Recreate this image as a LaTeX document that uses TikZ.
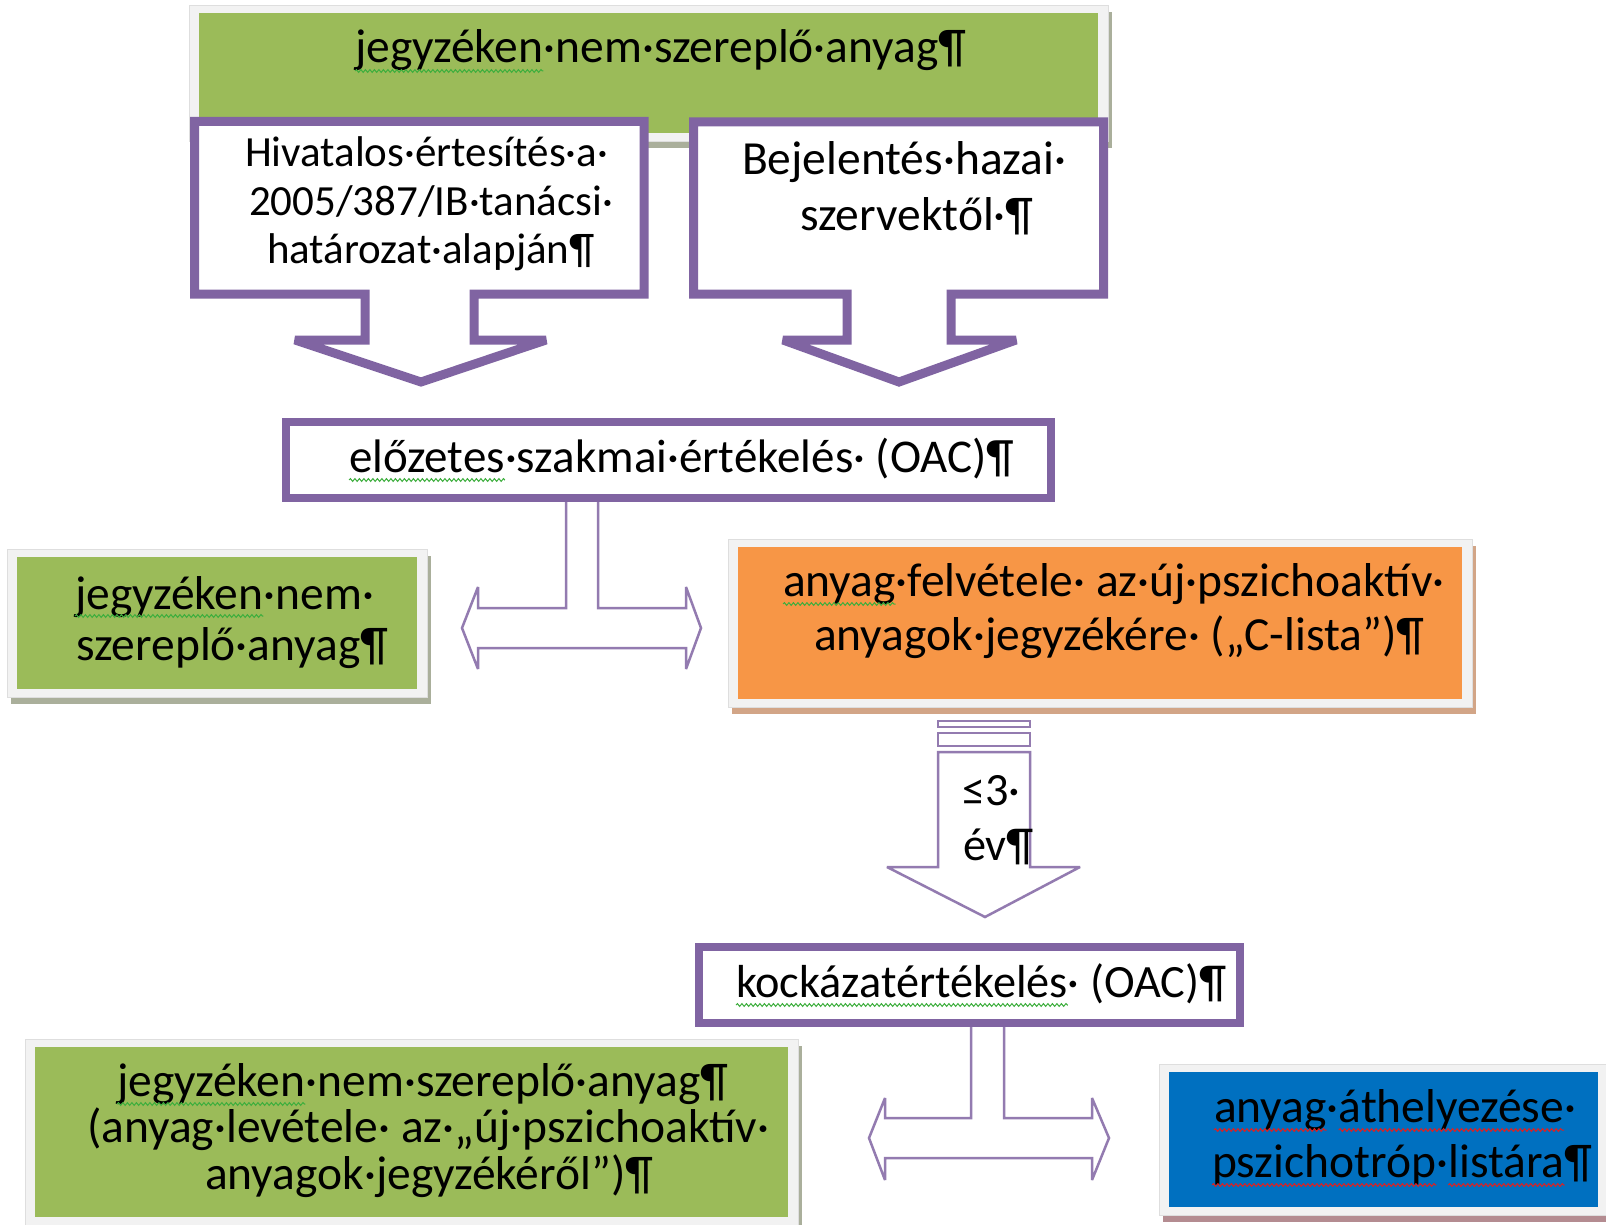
\documentclass[tikz,border=0pt]{standalone}
\usepackage{fontspec}
\setmainfont{Carlito}
\usetikzlibrary{decorations.pathmorphing}
\definecolor{ofpurple}{HTML}{8064A2}
\definecolor{ofgreen}{HTML}{9BBB59}
\definecolor{oforange}{HTML}{F79646}
\definecolor{ofblue}{HTML}{0070C0}
\definecolor{framegray}{HTML}{F2F2F2}
\definecolor{framerim}{HTML}{DEDEDE}
\definecolor{shgreen}{HTML}{AAAF9B}
\definecolor{shorange}{HTML}{D2A587}
\definecolor{shblue}{HTML}{B48C91}
\definecolor{wgreen}{HTML}{3DAE3D}
\definecolor{wred}{HTML}{E02020}
\newcommand\fA{\fontsize{47.5}{47.5}\selectfont}
\newcommand\fB{\fontsize{43}{43}\selectfont}
\newcommand\fC{\fontsize{46.3}{46.3}\selectfont}
\newcommand\fD{\fontsize{47}{47}\selectfont}
\newlength\tmplen
% measure text width into a macro: #1 macro, #2 font, #3 text
\newcommand\measure[3]{\settowidth{\tmplen}{#2#3}\edef#1{\the\tmplen}}
% #1 name, #2 x1, #3 y1, #4 x2, #5 y2, #6 fill, #7 shadow
\newcommand\framedbox[7]{%
  \fill[#7] (#2-6,#3-1) rectangle (#4+14,#5+15);
  \filldraw[fill=framegray,draw=framerim,line width=0.8pt] (#2-10,#3-8) rectangle (#4+10,#5+8);
  \node[fill=#6,inner sep=0pt,outer sep=0pt,anchor=north west,
        minimum width={#4-#2},minimum height={#5-#3}] (#1) at (#2,#3) {};}
\begin{document}
\measure\wJeg{\fA}{jegyzéken}
\measure\wElo{\fD}{előzetes}
\measure\wAny{\fA}{anyag}
\measure\wAnyDot{\fA}{anyag·}
\measure\wKoc{\fC}{kockázatértékelés}
\measure\wAth{\fA}{áthelyezése}
\measure\wPsz{\fA}{pszichotróp}
\measure\wPszDot{\fA}{pszichotróp·}
\measure\wLis{\fA}{listára}
\begin{tikzpicture}[x=1pt,y=-1pt,
  txt/.style={inner sep=0pt,outer sep=0pt,anchor=base west,font=\fA,text=black},
  txtsmall/.style={txt,font=\fB},
  callout/.style={draw=ofpurple,line width=9pt,fill=white,line join=miter,miter limit=2},
  blockarrow/.style={draw=ofpurple!85,line width=2.5pt,fill=white,line join=miter,miter limit=2},
  pbox/.style={draw=ofpurple,line width=8pt,fill=white,inner sep=0pt},
  gwave/.style={draw=wgreen,line width=1pt,decorate,decoration={snake,amplitude=1.4pt,segment length=4.5pt}},
  rwave/.style={gwave,draw=wred}]
\useasboundingbox (0,0) rectangle (1606,1225);
\fill[white] (0,0) rectangle (1606,1225);

% top green box
\framedbox{gtop}{199}{13}{1098}{133}{ofgreen}{shgreen}
\node[txt] (ttop) at (355,63) {jegyzéken·nem·szereplő·anyag¶};

% left callout
\draw[callout] (194.5,121.5) -- (644,121.5) -- (644,294) -- (474,294) -- (474,340)
  -- (546,340) -- (421,382) -- (295,340) -- (365,340) -- (365,294) -- (194.5,294) -- cycle;
% right callout
\draw[callout] (693.5,122) -- (1103.5,122) -- (1103.5,294) -- (951,294) -- (951,340)
  -- (1016,340) -- (899,382) -- (783,340) -- (847,340) -- (847,294) -- (693.5,294) -- cycle;

\node[txtsmall] (tl1) at (245,167) {Hivatalos·értesítés·a·};
\node[txtsmall] (tl2) at (249,215) {2005/387/IB·tanácsi·};
\node[txtsmall] (tl3) at (267,263) {határozat·alapján¶};
\node[txt] (tr1) at (742,175) {Bejelentés·hazai·};
\node[txt] (tr2) at (800,230) {szervektől·¶};

% preliminary assessment box
\node[pbox,minimum width=765pt,minimum height=76.5pt] (oac1) at (668.5,459.75) {};
\node[txt,font=\fD] (toac1) at (349,472) {előzetes·szakmai·értékelés· (OAC)¶};

% T arrow 1
\draw[blockarrow] (566,0 |- oac1.south) -- (566,608) -- (478,608) -- (478,587) -- (462,628)
  -- (478,669) -- (478,648) -- (686,648) -- (686,669) -- (701,628) -- (686,587)
  -- (686,608) -- (598,608) -- (598,0 |- oac1.south);

% left green box 2
\framedbox{gmid}{17}{557}{417}{689}{ofgreen}{shgreen}
\node[txt] (tg1) at (75,609) {jegyzéken·nem·};
\node[txt] (tg2) at (76,660) {szereplő·anyag¶};

% orange box
\framedbox{orng}{738}{547}{1462}{699}{oforange}{shorange}
\node[txt] (to1) at (783,596) {anyag·felvétele· az·új·pszichoaktív·};
\node[txt] (to2) at (814,650) {anyagok·jegyzékére· („C-lista”)¶};

% striped down arrow
\draw[blockarrow] (938,721) rectangle (1030,727);
\draw[blockarrow] (938,733) rectangle (1030,746);
\draw[blockarrow] (938,752) -- (1030,752) -- (1030,867) -- (1080,867) -- (985,917)
  -- (887,867) -- (938,867) -- cycle;
\node[txt,font=\fC] (ty1) at (962,805) {≤3·};
\node[txt,font=\fC] (ty2) at (963,860) {év¶};

% risk assessment box
\node[pbox,minimum width=541pt,minimum height=76pt] (oac2) at (969.5,985) {};
\node[txt,font=\fC] (toac2) at (736,997) {kockázatértékelés· (OAC)¶};

% T arrow 2
\draw[blockarrow] (971,0 |- oac2.south) -- (971,1118) -- (885,1118) -- (885,1098) -- (869,1138)
  -- (885,1180) -- (885,1158) -- (1092,1158) -- (1092,1180) -- (1109,1138) -- (1092,1098)
  -- (1092,1118) -- (1004,1118) -- (1004,0 |- oac2.south);

% bottom left green box
\framedbox{gbot}{35}{1047}{788}{1217}{ofgreen}{shgreen}
\node[txt] (tb1) at (117,1096) {jegyzéken·nem·szereplő·anyag¶};
\node[txt] (tb2) at (87,1142) {(anyag·levétele· az·„új·pszichoaktív·};
\node[txt] (tb3) at (205,1189) {anyagok·jegyzékéről”)¶};

% blue box
\framedbox{blue}{1169}{1072}{1598}{1207}{ofblue}{shblue}
\node[txt] (tu1) at (1214,1122) {anyag·áthelyezése·};
\node[txt] (tu2) at (1212,1177) {pszichotróp·listára¶};

% spell-check wavy underlines
\draw[gwave] ([yshift=-8pt]ttop.base west) -- ++(\wJeg,0pt);
\draw[gwave] ([yshift=-8pt]toac1.base west) -- ++(\wElo,0pt);
\draw[gwave] ([yshift=-7pt]tg1.base west) -- ++(\wJeg,0pt);
\draw[gwave] ([yshift=-8pt]to1.base west) -- ++(\wAny,0pt);
\draw[gwave] ([yshift=-8pt]toac2.base west) -- ++(\wKoc,0pt);
\draw[gwave] ([yshift=-8pt]tb1.base west) -- ++(\wJeg,0pt);
\draw[rwave] ([yshift=-8pt]tu1.base west) -- ++(\wAny,0pt);
\draw[rwave] ([xshift=\wAnyDot,yshift=-8pt]tu1.base west) -- ++(\wAth,0pt);
\draw[rwave] ([yshift=-8pt]tu2.base west) -- ++(\wPsz,0pt);
\draw[rwave] ([xshift=\wPszDot,yshift=-8pt]tu2.base west) -- ++(\wLis,0pt);
\end{tikzpicture}
\end{document}
